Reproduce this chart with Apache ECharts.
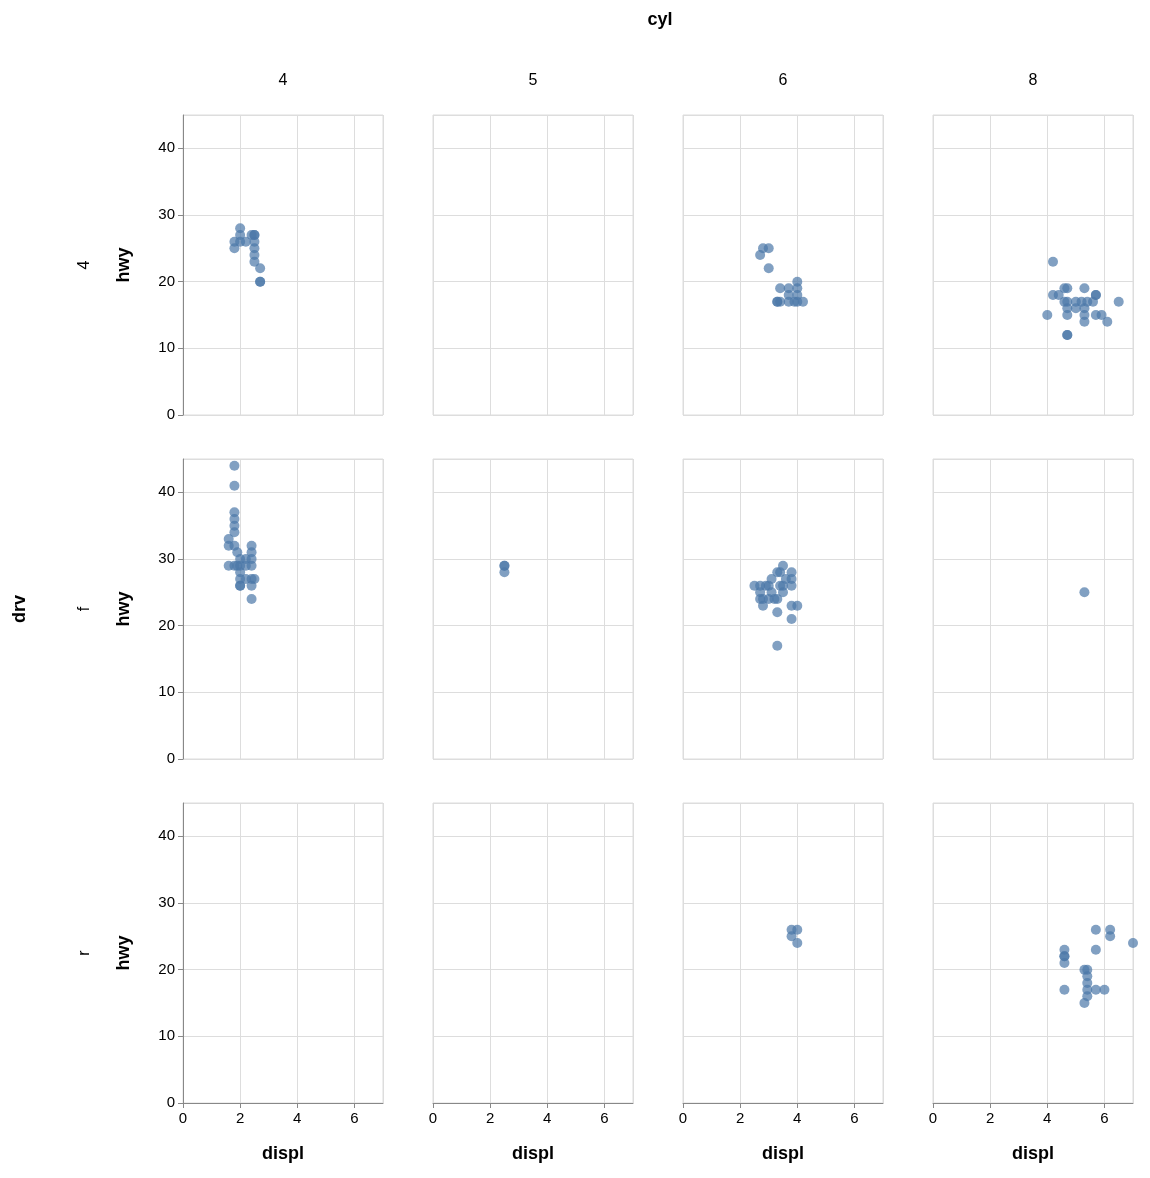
<!DOCTYPE html>
<html>
<head>
<meta charset="utf-8">
<script src="https://cdn.jsdelivr.net/npm/echarts@6/dist/echarts.min.js"></script>
</head>
<body style="margin:0">
<div id="main" style="width:1150px;height:1178px;"></div>
<script>
var cyls = ['4', '5', '6', '8'];
var drvs = ['4', 'f', 'r'];
// [displ, hwy] per facet, drv x cyl
var p4_4 = [[1.8,26],[1.8,25],[2.0,28],[2.0,27],[2.0,26],[2.2,26],[2.5,27],[2.5,27],[2.5,26],[2.5,25],[2.5,24],[2.5,23],[2.7,22],[2.7,20],[2.7,20],[2.4,27]];
var p4_5 = [];
var p4_6 = [[2.8,25],[2.7,24],[3.0,25],[3.0,22],[3.4,19],[3.3,17],[3.4,17],[4.0,20],[4.0,19],[4.0,17],[4.2,17],[3.7,19],[3.9,17],[3.7,18],[4.0,18],[3.3,17],[3.7,17]];
var p4_8 = [[4.2,23],[4.0,15],[4.2,18],[4.4,18],[4.7,19],[4.6,19],[4.7,17],[4.7,16],[4.7,15],[4.7,12],[4.7,12],[5.0,17],[5.2,17],[5.3,19],[5.4,17],[5.3,16],[5.3,15],[5.3,14],[5.7,18],[5.7,15],[5.9,15],[6.1,14],[6.5,17],[5.6,17],[5.0,16],[5.7,18],[4.6,17]];
var pf_4 = [[1.8,44],[1.8,41],[1.8,37],[1.8,36],[1.8,35],[1.8,34],[1.6,33],[1.6,32],[1.8,32],[1.6,29],[1.8,29],[2.0,30],[2.0,29],[2.0,28],[2.0,27],[2.0,26],[1.9,31],[2.2,30],[2.4,31],[2.4,32],[2.4,27],[2.5,27],[2.4,26],[2.4,24],[2.4,29],[1.9,29],[2.2,27],[2.4,30],[2.2,29],[2.0,26]];
var pf_5 = [[2.5,29],[2.5,28],[2.5,29]];
var pf_6 = [[2.5,26],[2.7,26],[2.8,24],[2.8,23],[3.0,26],[3.1,27],[3.3,28],[3.5,29],[3.8,28],[3.8,26],[3.8,23],[3.8,21],[4.0,23],[3.3,17],[3.3,22],[3.3,24],[3.1,25],[3.5,25],[3.4,26],[2.7,25],[3.0,24],[3.6,27],[3.8,27],[3.5,26],[2.9,26],[2.7,24],[3.2,24],[3.4,28]];
var pf_8 = [[5.3,25]];
var pr_4 = [];
var pr_5 = [];
var pr_6 = [[3.8,26],[4.0,26],[3.8,25],[4.0,24]];
var pr_8 = [[4.6,23],[4.6,22],[4.6,21],[4.6,17],[5.4,20],[5.3,20],[5.4,18],[5.4,17],[5.4,16],[5.3,15],[5.7,26],[5.7,23],[5.7,17],[6.0,17],[6.2,26],[6.2,25],[7.0,24],[5.4,19],[4.6,22]];
var facets = [[p4_4, p4_5, p4_6, p4_8], [pf_4, pf_5, pf_6, pf_8], [pr_4, pr_5, pr_6, pr_8]];

var grids = [], xAxes = [], yAxes = [], series = [];
var lefts = [183, 433, 683, 933], tops = [115, 459, 803];
for (var r = 0; r < 3; r++) {
  for (var c = 0; c < 4; c++) {
    var i = grids.length;
    var bottom = r == 2, left = c == 0;
    grids.push({left: lefts[c], top: tops[r], width: 200, height: 300, show: true, borderColor: '#ddd', borderWidth: 1});
    xAxes.push({
      gridIndex: i, type: 'value', min: 0, max: 7, interval: 2,
      name: bottom ? 'displ' : '', nameLocation: 'middle', nameGap: 42,
      nameTextStyle: {fontWeight: 'bold', fontSize: 18, color: '#000', fontFamily: 'Liberation Sans'},
      axisLine: {show: bottom, lineStyle: {color: '#888'}},
      axisTick: {show: bottom, length: 5, lineStyle: {color: '#888'}},
      axisLabel: {show: bottom, showMaxLabel: false, color: '#000', fontSize: 15, fontFamily: 'Liberation Sans'},
      splitLine: {lineStyle: {color: '#ddd'}}
    });
    yAxes.push({
      gridIndex: i, type: 'value', min: 0, max: 45, interval: 10,
      name: left ? 'hwy' : '', nameLocation: 'middle', nameGap: 50, nameRotate: 90,
      nameTextStyle: {fontWeight: 'bold', fontSize: 18, color: '#000', fontFamily: 'Liberation Sans'},
      axisLine: {show: left, lineStyle: {color: '#888'}},
      axisTick: {show: left, length: 5, lineStyle: {color: '#888'}},
      axisLabel: {show: left, showMaxLabel: false, color: '#000', fontSize: 15, fontFamily: 'Liberation Sans'},
      splitLine: {lineStyle: {color: '#ddd'}}
    });
    series.push({type: 'scatter', xAxisIndex: i, yAxisIndex: i, data: facets[r][c],
      symbolSize: 10, itemStyle: {color: '#4c78a8', opacity: 0.7}});
  }
}

var txt = {fill: '#000', fontSize: 16, fontFamily: 'Liberation Sans', textAlign: 'center', textVerticalAlign: 'middle'};
var graphics = [{type: 'text', left: 'center', x: 660, top: 10, style: Object.assign({}, txt, {text: 'cyl', fontWeight: 'bold', fontSize: 18})}];
graphics = [{type: 'text', x: 660, y: 20, style: Object.assign({}, txt, {text: 'cyl', fontWeight: 'bold', fontSize: 18})}];
for (var c = 0; c < 4; c++) graphics.push({type: 'text', x: lefts[c] + 100, y: 81, style: Object.assign({}, txt, {text: cyls[c]})});
for (var r = 0; r < 3; r++) graphics.push({type: 'text', x: 85, y: tops[r] + 150, rotation: Math.PI / 2, style: Object.assign({}, txt, {text: drvs[r]})});
graphics.push({type: 'text', x: 20, y: 609, rotation: Math.PI / 2, style: Object.assign({}, txt, {text: 'drv', fontWeight: 'bold', fontSize: 18})});

var myChart = echarts.init(document.getElementById('main'));
myChart.setOption({
  animation: false,
  backgroundColor: '#fff',
  grid: grids, xAxis: xAxes, yAxis: yAxes, series: series,
  graphic: graphics
});
</script>
</body>
</html>
